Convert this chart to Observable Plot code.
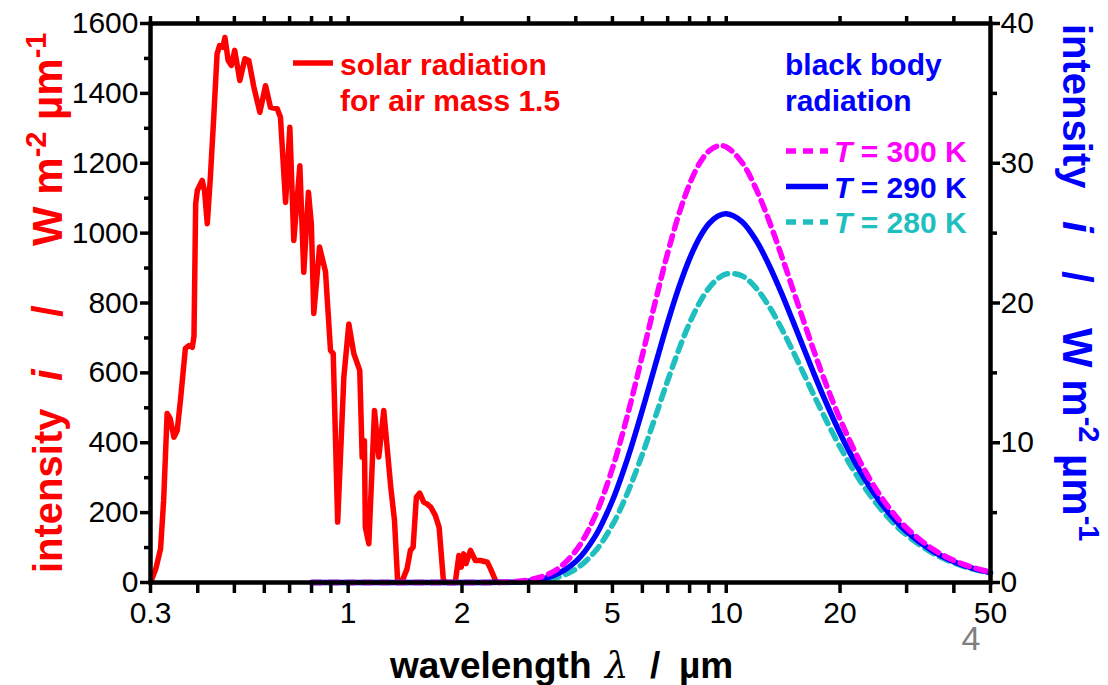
<!DOCTYPE html>
<html>
<head>
<meta charset="utf-8">
<script src="https://cdn.jsdelivr.net/npm/d3@7"></script>
<script src="https://cdn.jsdelivr.net/npm/@observablehq/plot@0.6"></script>
<style>
  html, body { margin: 0; padding: 0; background: white; overflow: hidden; }
  #chart svg { display: block; }
</style>
</head>
<body>
<div id="chart"></div>
<script>
// ---------- data ----------
// Solar spectrum, air mass 1.5 (left axis, W m^-2 µm^-1)
const solarWavelength = [0.300,0.310,0.319,0.325,0.332,0.338,0.346,0.353,0.360,0.371,0.379,0.387,0.391,0.395,0.399,0.411,0.417,0.424,0.432,0.441,0.450,0.457,0.466,0.472,0.4815,0.491,0.501,0.517,0.533,0.546,0.563,0.584,0.6045,0.623,0.649,0.662,0.683,0.701,0.718,0.745,0.763,0.785,0.799,0.811,0.840,0.871,0.898,0.913,0.938,0.974,1.004,1.035,1.073,1.089,1.104,1.110,1.134,1.174,1.205,1.242,1.296,1.326,1.352,1.39,1.431,1.461,1.485,1.515,1.546,1.584,1.616,1.653,1.70,1.74,1.786,1.83,1.92,1.962,1.99,2.02,2.05,2.106,2.17,2.24,2.334,2.38,2.455,2.50];
const solarIntensity = [0,40,97,235,484,470,416,435,521,670,678,673,705,1084,1122,1151,1120,1027,1160,1332,1513,1537,1532,1560,1494,1480,1523,1437,1499,1494,1418,1346,1422,1360,1356,1332,1088,1303,979,1193,888,1117,1027,770,960,890,664,655,173,588,740,655,607,359,406,158,111,492,359,492,273,177,0,5,39,92,101,244,256,230,225,216,192,158,5,0,0,77,44,82,54,92,63,63,58,39,5,0];

// Black body radiation (right axis, W m^-2 µm^-1)
const bbWavelength = [0.8,1,1.5,2,2.5,3,3.5,4,4.5,5,5.5,6,6.5,7,7.5,8,8.5,9,9.5,10,11,12,13,14,15,16,17,18,20,22.5,25,27.5,30,35,40,45,50];
const bb300 = [0,0,0,0,0.02,0.18,0.80,2.27,4.77,8.17,12.14,16.26,20.15,23.58,26.38,28.52,30.00,30.88,31.24,31.17,30.07,28.15,25.83,23.39,21.00,18.75,16.68,14.82,11.69,8.74,6.60,5.04,3.90,2.43,1.58,1.07,0.74];
const bb290 = [0,0,0,0,0.01,0.10,0.50,1.50,3.30,5.87,8.99,12.34,15.62,18.61,21.15,23.18,24.68,25.68,26.22,26.39,25.83,24.47,22.67,20.71,18.72,16.82,15.05,13.43,10.68,8.04,6.11,4.69,3.64,2.28,1.49,1.01,0.71];
const bb280 = [0,0,0,0,0,0.06,0.30,0.96,2.23,4.12,6.51,9.18,11.89,14.45,16.70,18.57,20.02,21.07,21.74,22.08,21.95,21.06,19.73,18.18,16.57,14.98,13.48,12.10,9.70,7.36,5.63,4.34,3.39,2.13,1.40,0.95,0.67];

// Axes
const leftMax = 1600, rightMax = 40;
const leftTicks = [0,200,400,600,800,1000,1200,1400,1600];
const leftMinor = [100,300,500,700,900,1100,1300,1500];
const rightTicks = [0,10,20,30,40];
const rightMinor = [5,15,25,35];
const xTicks = [0.3,1,2,5,10,20,50];
const xTickLabels = ["0.3","1","2","5","10","20","50"];
const xMinor = [0.4,0.5,0.6,0.7,0.8,0.9,3,4,6,7,8,9,30,40];

const legendSeries = [
  {label: "300 K", color: "#ff00ff", dash: "10,7"},
  {label: "290 K", color: "#0000ff", dash: null},
  {label: "280 K", color: "#1fbfbf", dash: "10,7"}
];

// ---------- tables ----------
const solar = solarWavelength.map((w, i) => ({w, v: solarIntensity[i]}));
const toRows = arr => bbWavelength.map((w, i) => ({w, v: arr[i]}));
const k = leftMax / rightMax; // right-axis values mapped onto the left y scale
const xLabelRows = xTicks.map((x, i) => ({x, t: xTickLabels[i]}));

const W = 1108, H = 685;
const font = "'Liberation Sans', Arial, Helvetica, sans-serif";

const chart = Plot.plot({
  width: W, height: H,
  marginLeft: 150, marginRight: 118, marginTop: 23, marginBottom: 103,
  x: {type: "log", domain: [0.3, 50]},
  y: {domain: [0, leftMax]},
  style: {fontFamily: font, fontSize: "30px", color: "black", background: "white", overflow: "visible"},
  marks: [
    Plot.line(solar, {x: "w", y: "v", stroke: "#ff0000", strokeWidth: 5.5, strokeLinejoin: "round"}),
    Plot.line(toRows(bb280), {x: "w", y: d => d.v * k, stroke: legendSeries[2].color, strokeWidth: 5.5, strokeDasharray: "10,7", curve: "catmull-rom"}),
    Plot.line(toRows(bb290), {x: "w", y: d => d.v * k, stroke: legendSeries[1].color, strokeWidth: 5.5, curve: "catmull-rom"}),
    Plot.line(toRows(bb300), {x: "w", y: d => d.v * k, stroke: legendSeries[0].color, strokeWidth: 5.5, strokeDasharray: "10,7", curve: "catmull-rom"}),
    Plot.frame({stroke: "black", strokeWidth: 4.5}),
    Plot.axisX({anchor: "bottom", ticks: xTicks.concat(xMinor), tickFormat: () => "", tickSize: 11, strokeWidth: 3.5, label: null}),
    Plot.text(xLabelRows, {x: "x", text: "t", frameAnchor: "bottom", dy: 31, fontSize: 30, lineAnchor: "middle", textAnchor: "middle"}),
    Plot.axisX({anchor: "top", ticks: xTicks.concat(xMinor), tickFormat: () => "", tickSize: 8, strokeWidth: 3.5, label: null}),
    Plot.axisY({anchor: "left", ticks: leftTicks, tickSize: 10, tickPadding: 2, strokeWidth: 3.5, fontSize: 30, label: null, tickFormat: d => String(d)}),
    Plot.axisY({anchor: "left", ticks: leftMinor, tickSize: 6, strokeWidth: 3.5, tickFormat: () => "", label: null}),
    Plot.axisY({anchor: "right", ticks: rightTicks.map(t => t * k), tickSize: 9, tickPadding: 1, strokeWidth: 3.5, fontSize: 30, label: null, tickFormat: d => String(d / k)}),
    Plot.axisY({anchor: "right", ticks: rightMinor.map(t => t * k), tickSize: 6, strokeWidth: 3.5, tickFormat: () => "", label: null})
  ]
});
document.getElementById("chart").appendChild(chart);

// ---------- titles & legend (SVG text) ----------
const svg = d3.select(chart);
const g = svg.append("g").attr("font-family", font).attr("font-weight", "bold").attr("text-anchor", "start");

// rotated y-axis title, placed piece by piece along the axis
function yTitle(x, rot, pos, color) {
  const piece = (p, size, build) => {
    const t = g.append("text")
      .attr("transform", `translate(${x},${p}) rotate(${rot})`)
      .attr("text-anchor", "start").attr("fill", color).attr("font-size", size);
    build(t);
  };
  piece(pos[0], 40, t => t.text("intensity"));
  piece(pos[1], 42, t => t.attr("font-style", "italic").text("i"));
  piece(pos[2], 42, t => t.text("/"));
  piece(pos[3], 42, t => {
    t.style("white-space", "pre");
    t.append("tspan").text("W m");
    t.append("tspan").attr("font-size", 29).attr("dy", -16).text("-2");
    t.append("tspan").attr("dy", 16).text(" µm");
    t.append("tspan").attr("font-size", 29).attr("dy", -16).text("-1");
  });
}
yTitle(62, -90, [573, 381, 317, 246], "#ff0000");
yTitle(1063, 90, [24, 221, 271, 328], "#0000ff");

// x title
const xTitle = [["wavelength", 390, "normal"], ["λ", 605, "italic"], ["/", 650, "normal"], ["µm", 679, "normal"]];
xTitle.forEach(([s, x, st]) => {
  const t = g.append("text").attr("x", x).attr("y", 678).attr("font-size", 37).attr("fill", "black").text(s);
  if (st === "italic") t.attr("font-style", "italic").attr("font-weight", "normal").attr("font-family", "'DejaVu Serif', serif");
});

// solar legend
g.append("line").attr("x1", 293).attr("x2", 333).attr("y1", 63).attr("y2", 63)
  .attr("stroke", "#ff0000").attr("stroke-width", 5.5);
g.append("text").attr("x", 340).attr("y", 75).attr("font-size", 30).attr("fill", "#ff0000").text("solar radiation");
g.append("text").attr("x", 340).attr("y", 111).attr("font-size", 30).attr("fill", "#ff0000").text("for air mass 1.5");

// black body legend
g.append("text").attr("x", 785).attr("y", 75).attr("font-size", 30).attr("fill", "#0000ff").text("black body");
g.append("text").attr("x", 785).attr("y", 111).attr("font-size", 30).attr("fill", "#0000ff").text("radiation");
legendSeries.forEach((s, i) => {
  const cy = 151 + i * 35.5;
  g.append("line").attr("x1", 786).attr("x2", 828).attr("y1", cy).attr("y2", cy)
    .attr("stroke", s.color).attr("stroke-width", 5.5).attr("stroke-dasharray", s.dash);
  const t = g.append("text").attr("x", 834).attr("y", cy + 11).attr("font-size", 30).attr("fill", s.color).style("white-space", "pre");
  t.append("tspan").attr("font-style", "italic").text("T");
  t.append("tspan").text(" = " + s.label);
});

// page number
svg.append("text").attr("x", 971).attr("y", 650).attr("text-anchor", "middle")
  .attr("font-family", font).attr("font-size", 34).attr("fill", "#7f7f7f").text("4");
</script>
</body>
</html>
